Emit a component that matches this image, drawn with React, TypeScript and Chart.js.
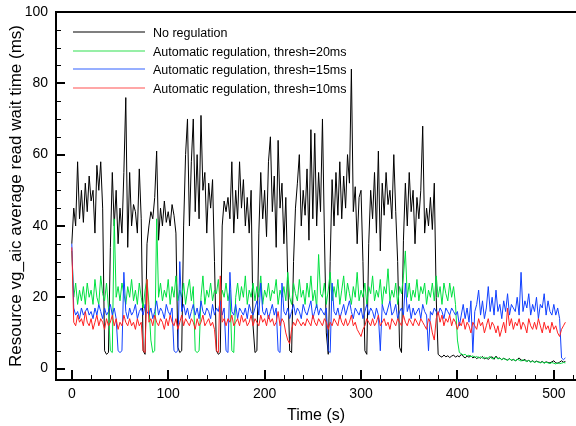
import React, { useEffect, useRef } from "react";
import { Chart, registerables } from "chart.js";

Chart.register(...registerables);

// Sample times (s), one sample every 2 s from 0 to 512
const times: number[] = Array.from({ length: 257 }, (_, i) => i * 2);

const seriesLabels = [
  "No regulation",
  "Automatic regulation, thresh=20ms",
  "Automatic regulation, thresh=15ms",
  "Automatic regulation, thresh=10ms",
];
const seriesColors = ["#000000", "#00e040", "#1040ff", "#ff2020"];
const legendColors = ["#000000", "#30e050", "#3060ff", "#ff5050"];

const noRegulation = [
  35, 45, 40, 58, 42, 50, 41, 52, 44, 54,
  47, 50, 38, 57, 50, 58, 45, 5, 4, 4.5,
  34, 55, 40, 50, 35, 45, 38, 55, 76, 34,
  55, 40, 46, 44, 38, 56, 42, 5, 4, 35,
  40, 44, 42, 48, 61, 36, 45, 40, 47, 41,
  44, 40, 46, 43, 38, 6, 4.5, 5, 40, 60,
  70, 40, 58, 70, 44, 60, 42, 71, 50, 55,
  38, 52, 45, 53, 30, 5, 4, 4.5, 40, 47,
  44, 48, 42, 58, 38, 50, 42, 58, 45, 53,
  40, 48, 38, 50, 12, 4.5, 5, 38, 55, 42,
  50, 37, 58, 65, 44, 54, 34, 64, 45, 52,
  35, 48, 25, 5, 4.5, 30, 45, 52, 60, 40,
  50, 43, 56, 36, 67, 42, 66, 40, 55, 44,
  70, 38, 10, 4, 30, 53, 40, 55, 43, 58,
  42, 54, 45, 60, 52, 84, 44, 51, 35, 48,
  50, 30, 5, 4, 35, 50, 42, 55, 38, 61,
  33, 52, 43, 55, 46, 50, 42, 60, 44, 30,
  6, 4.5, 36, 52, 40, 55, 44, 50, 35, 48,
  42, 50, 68, 38, 45, 40, 48, 39, 52, 20,
  4, 3.5, 3.2, 3.8, 3.3, 3.6, 3.1, 3.5, 3.8, 3.2,
  3.6, 3.3, 4.0, 3.4, 3.0, 3.5, 3.2, 3.6, 3.0, 3.3,
  2.8, 3.2, 2.9, 3.4, 2.7, 3.0, 2.6, 3.1, 3.3, 2.6,
  3.5, 2.8, 3.0, 2.5, 2.9, 2.6, 2.4, 2.8, 2.3, 2.6,
  2.2, 2.5, 3.0, 2.4, 2.2, 2.6, 2.0, 2.3, 1.9, 2.2,
  1.8, 2.1, 1.9, 1.7, 2.0, 1.6, 1.9, 1.7, 1.6, 1.9,
  2.2, 1.6, 1.5, 1.8, 2.2, 1.8, 2.0,
];

const thresh20 = [
  33, 20, 24, 18, 22, 19, 23, 18, 24, 20,
  22, 18, 25, 20, 18, 26, 21, 19, 24, 17,
  5, 4.5, 42, 20, 23, 19, 24, 21, 18, 23,
  20, 25, 19, 22, 18, 24, 20, 17, 22, 25,
  18, 8, 4.5, 5, 42, 20, 24, 19, 22, 20,
  25, 18, 23, 20, 26, 19, 22, 20, 24, 18,
  22, 25, 19, 23, 5, 4.5, 5, 20, 26, 18,
  22, 20, 24, 19, 22, 21, 25, 18, 22, 20,
  24, 19, 22, 5, 4.5, 20, 24, 19, 23, 20,
  26, 18, 22, 20, 24, 19, 23, 20, 26, 18,
  22, 20, 24, 19, 22, 21, 25, 18, 22, 20,
  23, 19, 27, 20, 18, 24, 21, 19, 25, 20,
  22, 18, 24, 20, 26, 19, 22, 17, 32, 21,
  20, 24, 18, 22, 27, 19, 23, 20, 25, 18,
  22, 26, 19, 24, 21, 18, 23, 20, 27, 19,
  22, 20, 24, 18, 23, 21, 26, 19, 22, 20,
  25, 18, 23, 21, 28, 19, 22, 20, 24, 18,
  23, 21, 26, 33, 20, 24, 19, 22, 20, 25,
  19, 23, 21, 24, 18, 22, 20, 24, 19, 26,
  20, 23, 18, 24, 21, 19, 24, 20, 23, 18,
  8, 4.5, 4.2, 3.8, 4.0, 3.5, 3.8, 3.3, 3.6, 3.1,
  3.4, 3.0, 3.3, 2.9, 3.2, 2.8, 3.1, 3.4, 2.7, 3.0,
  3.2, 2.7, 2.9, 2.5, 2.8, 2.6, 2.3, 2.7, 2.4, 2.5,
  2.2, 2.6, 2.4, 2.1, 2.5, 2.2, 2.0, 2.3, 1.8, 2.1,
  1.7, 2.0, 1.8, 1.6, 1.9, 1.5, 1.8, 1.6, 1.4, 1.7,
  1.5, 1.3, 1.6, 1.4, 1.5, 1.7, 1.6,
];

const thresh15 = [
  35, 17, 15, 16, 14, 17, 15, 16, 17, 15,
  16, 14, 17, 15, 18, 16, 14, 17, 15, 16,
  18, 15, 17, 14, 5, 4.5, 5, 27, 16, 14,
  17, 15, 16, 18, 14, 16, 17, 15, 18, 16,
  15, 17, 14, 16, 19, 15, 17, 16, 14, 18,
  16, 15, 17, 5, 4.5, 5, 30, 16, 18, 15,
  17, 14, 16, 18, 15, 17, 14, 19, 16, 15,
  17, 16, 14, 18, 15, 17, 16, 19, 15, 17,
  5, 4.5, 27, 16, 15, 18, 14, 17, 16, 15,
  17, 14, 18, 16, 15, 17, 19, 15, 24, 16,
  15, 17, 14, 16, 18, 15, 17, 5, 4.5, 24,
  16, 15, 17, 14, 16, 18, 15, 17, 16, 14,
  18, 16, 15, 17, 19, 14, 16, 18, 15, 17,
  16, 15, 17, 5, 4.5, 24, 16, 15, 17, 14,
  16, 18, 15, 17, 19, 16, 14, 17, 16, 15,
  17, 14, 16, 18, 15, 17, 16, 14, 17, 15,
  5, 18, 16, 15, 17, 19, 15, 16, 18, 14,
  16, 17, 15, 24, 16, 18, 14, 17, 15, 16,
  17, 14, 18, 16, 15, 5, 16, 15, 17, 16,
  15, 17, 16, 14, 17, 16, 15, 17, 16, 15,
  16, 12, 15, 18, 14, 17, 13, 19, 4.5, 16,
  18, 22, 15, 19, 14, 17, 23, 16, 20, 15,
  22, 16, 18, 14, 19, 16, 21, 15, 18, 17,
  16, 20, 15, 27, 16, 19, 17, 21, 15, 18,
  16, 20, 14, 18, 17, 21, 15, 19, 16, 15,
  18, 15, 17, 14, 3, 2.5, 3,
];

const thresh10 = [
  34, 13, 12, 15, 13, 14, 12, 16, 13, 12,
  14, 11, 13, 15, 12, 14, 13, 11, 14, 12,
  13, 15, 12, 14, 11, 13, 12, 15, 13, 12,
  14, 12, 13, 11, 14, 12, 13, 5, 4.5, 25,
  13, 14, 12, 15, 13, 12, 14, 13, 11, 14,
  12, 15, 13, 12, 14, 11, 13, 15, 12, 14,
  13, 12, 14, 13, 11, 14, 12, 13, 15, 12,
  13, 14, 12, 13, 11, 5, 4.5, 26, 13, 14,
  12, 14, 13, 15, 12, 13, 14, 12, 15, 13,
  14, 12, 13, 15, 12, 14, 13, 12, 15, 13,
  14, 12, 15, 13, 14, 12, 13, 16, 12, 14,
  13, 10, 8, 7, 11, 13, 12, 14, 13, 12,
  13, 12, 14, 13, 12, 15, 13, 12, 14, 13,
  12, 14, 13, 11, 13, 12, 14, 13, 12, 15,
  13, 12, 14, 12, 13, 15, 12, 13, 11, 10,
  9, 11, 12, 14, 13, 12, 14, 12, 13, 15,
  12, 13, 14, 12, 13, 11, 14, 13, 12, 14,
  13, 12, 15, 13, 12, 14, 13, 12, 14, 13,
  12, 14, 13, 12, 11, 14, 13, 10, 8, 14,
  16, 13, 15, 12, 14, 13, 15, 12, 14, 13,
  11, 13, 12, 14, 11, 13, 12, 10, 13, 12,
  11, 14, 12, 13, 10, 12, 14, 11, 13, 12,
  10, 12, 9, 11, 13, 10, 17, 12, 14, 11,
  13, 12, 14, 11, 13, 12, 10, 14, 12, 11,
  13, 11, 14, 12, 10, 13, 11, 12, 10, 13,
  11, 12, 10, 9, 11, 12, 13,
];

const seriesValues = [noRegulation, thresh20, thresh15, thresh10];

const xMajorTicks = [0, 100, 200, 300, 400, 500];
const xMinorTicks = [20, 40, 60, 80, 120, 140, 160, 180, 220, 240, 260, 280, 320, 340, 360, 380, 420, 440, 460, 480, 520];
const yMajorTicks = [0, 20, 40, 60, 80, 100];
const yMinorTicks = [5, 10, 15, 25, 30, 35, 45, 50, 55, 65, 70, 75, 85, 90, 95];

const FONT = "'Liberation Sans', Arial, Helvetica, sans-serif";

const framePlugin = {
  id: "frame",
  afterDatasetsDraw(chart: any) {
    const { ctx, chartArea: a, scales } = chart;
    const xs = scales.x;
    const ys = scales.y;
    ctx.save();
    ctx.strokeStyle = "#000";
    const tick = (x1: number, y1: number, x2: number, y2: number, w: number) => {
      ctx.lineWidth = w;
      ctx.beginPath();
      ctx.moveTo(x1, y1);
      ctx.lineTo(x2, y2);
      ctx.stroke();
    };
    xMajorTicks.forEach((v) => {
      const px = Math.round(xs.getPixelForValue(v));
      tick(px, a.bottom, px, a.bottom - 10, 2);
    });
    xMinorTicks.forEach((v) => {
      const px = Math.round(xs.getPixelForValue(v)) + 0.5;
      if (px < a.right) tick(px, a.bottom, px, a.bottom - 5, 1);
    });
    yMajorTicks.forEach((v) => {
      const py = Math.round(ys.getPixelForValue(v));
      tick(a.left, py, a.left + 9, py, 2);
    });
    yMinorTicks.forEach((v) => {
      const py = Math.round(ys.getPixelForValue(v)) + 0.5;
      tick(a.left, py, a.left + 5, py, 1);
    });
    // frame
    ctx.lineWidth = 2;
    ctx.beginPath();
    ctx.moveTo(a.left, a.top);
    ctx.lineTo(a.right, a.top);
    ctx.moveTo(a.left, a.top - 1);
    ctx.lineTo(a.left, a.bottom + 1);
    ctx.moveTo(a.left, a.bottom);
    ctx.lineTo(a.right, a.bottom);
    ctx.stroke();
    // legend
    ctx.font = `12.5px ${FONT}`;
    ctx.textBaseline = "alphabetic";
    ctx.textAlign = "left";
    for (let i = 0; i < seriesLabels.length; i++) {
      const ly = Math.round(32 + i * 18.5);
      ctx.strokeStyle = legendColors[i];
      ctx.lineWidth = 1.2;
      ctx.beginPath();
      ctx.moveTo(73, ly);
      ctx.lineTo(145, ly);
      ctx.stroke();
      ctx.fillStyle = "#000";
      ctx.fillText(seriesLabels[i], 153, ly + 4.5);
    }
    ctx.restore();
  },
};

export default function App() {
  const ref = useRef<HTMLCanvasElement | null>(null);
  useEffect(() => {
    if (!ref.current) return;
    const datasets = seriesValues.map((vals, i) => ({
      label: seriesLabels[i],
      data: times.map((t, j) => ({ x: t, y: vals[j] })),
      borderColor: seriesColors[i],
      backgroundColor: seriesColors[i],
      borderWidth: 1,
      pointRadius: 0,
      tension: 0,
      fill: false,
      order: 3 - i,
    }));
    const chart = new Chart(ref.current, {
      type: "line",
      data: { datasets },
      options: {
        animation: false,
        responsive: false,
        devicePixelRatio: 1,
        layout: { padding: { top: 12, right: 0, left: 0, bottom: 0 } },
        plugins: { legend: { display: false }, tooltip: { enabled: false } },
        scales: {
          x: {
            type: "linear",
            min: -16.4,
            max: 523,
            grid: { display: false, drawTicks: false },
            border: { display: false },
            ticks: {
              stepSize: 100,
              includeBounds: false,
              autoSkip: false,
              maxRotation: 0,
              padding: 6,
              color: "#000",
              font: { family: FONT, size: 14 },
            },
            title: {
              display: true,
              text: "Time (s)",
              color: "#000",
              font: { family: FONT, size: 16 },
              padding: { top: 0, bottom: 1 },
            },
            afterFit: (s: any) => {
              s.height = 46;
              s.paddingLeft = 0;
              s.paddingRight = 0;
            },
          },
          y: {
            type: "linear",
            min: -3.2,
            max: 100,
            grid: { display: false, drawTicks: false },
            border: { display: false },
            ticks: {
              stepSize: 20,
              includeBounds: false,
              autoSkip: false,
              padding: 8,
              color: "#000",
              font: { family: FONT, size: 14 },
            },
            title: {
              display: true,
              text: "Resource vg_aic average read wait time (ms)",
              color: "#000",
              font: { family: FONT, size: 17 },
              padding: { top: 6, bottom: 0 },
            },
            afterFit: (s: any) => {
              s.width = 56;
              s.paddingTop = 0;
              s.paddingBottom = 0;
            },
          },
        },
      },
      plugins: [framePlugin],
    });
    return () => chart.destroy();
  }, []);
  return (
    <div style={{ position: "absolute", left: 0, top: 0, width: 576, height: 426, background: "#fff" }}>
      <canvas ref={ref} width={576} height={426} style={{ display: "block" }} />
    </div>
  );
}
